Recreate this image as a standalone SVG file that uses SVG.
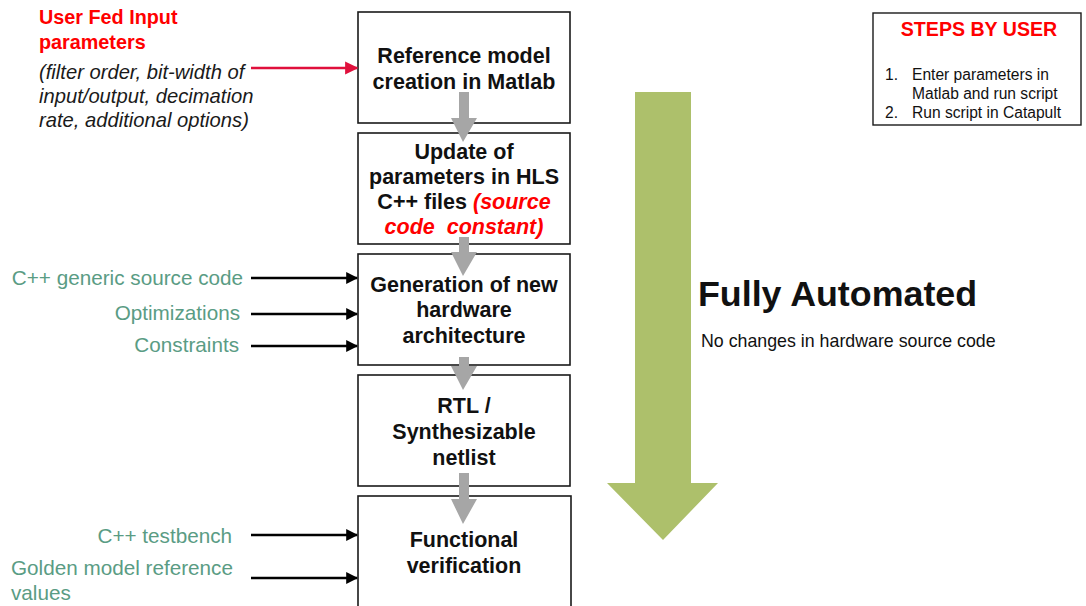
<svg xmlns="http://www.w3.org/2000/svg" width="1086" height="606" viewBox="0 0 1086 606">
  <defs>
    <style>
      .box { fill: #ffffff; stroke: #1a1a1a; stroke-width: 1.6; }
      .bt { font-family: "Liberation Sans", Arial, sans-serif; font-weight: bold; font-size: 21.5px; fill: #111; text-anchor: middle; }
      .red { fill: #ff0000; }
      .in { font-family: "Liberation Sans", Arial, sans-serif; font-size: 20.7px; fill: #5a9c84; }
      .flow { fill: #a6a6a6; }
      .wire { stroke: #000; stroke-width: 2.4; fill: none; marker-end: url(#ah); }
    </style>
    <marker id="ah" viewBox="0 0 10 10" refX="9" refY="5" markerWidth="5" markerHeight="5" markerUnits="strokeWidth" orient="auto">
      <path d="M0,0 L10,5 L0,10 z" fill="#000"/>
    </marker>
    <marker id="ahr" viewBox="0 0 10 10" refX="9" refY="5" markerWidth="5.5" markerHeight="5.5" markerUnits="strokeWidth" orient="auto">
      <path d="M0,0 L10,5 L0,10 z" fill="#e0103c"/>
    </marker>
  </defs>
  <rect width="1086" height="606" fill="#ffffff"/>

  <!-- user inputs -->
  <g id="user-input" font-family="Liberation Sans, Arial, sans-serif" font-size="20.2px">
    <text x="39" y="24" font-weight="bold" fill="#ff0000" font-size="19.8px">User Fed Input</text>
    <text x="39" y="49" font-weight="bold" fill="#ff0000" font-size="19.8px">parameters</text>
    <text x="39" y="79" font-style="italic" fill="#1a1a1a">(filter order, bit-width of</text>
    <text x="39" y="103" font-style="italic" fill="#1a1a1a">input/output, decimation</text>
    <text x="39" y="127" font-style="italic" fill="#1a1a1a">rate, additional options)</text>
  </g>

  <!-- process boxes -->
  <g id="ref-model">
    <rect class="box" x="358" y="12" width="212" height="111"/>
    <text class="bt" x="464" y="63">Reference model</text>
    <text class="bt" x="464" y="89">creation in Matlab</text>
  </g>
  <g id="update-params">
    <rect class="box" x="358" y="133" width="212" height="111"/>
    <text class="bt" x="464" y="159">Update of</text>
    <text class="bt" x="464" y="184">parameters in HLS</text>
    <text class="bt" x="464" y="209">C++ files <tspan class="red" font-style="italic">(source</tspan></text>
    <text class="bt red" x="464" y="234" font-style="italic" xml:space="preserve">code  constant)</text>
  </g>
  <g id="generation">
    <rect class="box" x="358" y="254" width="212" height="111"/>
    <text class="bt" x="464" y="292">Generation of new</text>
    <text class="bt" x="464" y="317">hardware</text>
    <text class="bt" x="464" y="343">architecture</text>
  </g>
  <g id="rtl">
    <rect class="box" x="358" y="375" width="212" height="111"/>
    <text class="bt" x="464" y="413">RTL /</text>
    <text class="bt" x="464" y="439">Synthesizable</text>
    <text class="bt" x="464" y="465">netlist</text>
  </g>
  <g id="verification">
    <rect class="box" x="358" y="496" width="213" height="120"/>
    <text class="bt" x="464" y="547">Functional</text>
    <text class="bt" x="464" y="573">verification</text>
  </g>

  <!-- side inputs -->
  <g id="side-inputs" class="in">
    <text x="243" y="285" text-anchor="end">C++ generic source code</text>
    <text x="240" y="320" text-anchor="end">Optimizations</text>
    <text x="239" y="352" text-anchor="end">Constraints</text>
    <text x="232" y="543" text-anchor="end">C++ testbench</text>
    <text x="11" y="575">Golden model reference</text>
    <text x="11" y="600">values</text>
  </g>

  <!-- connectors -->
  <g id="connectors">
    <line x1="251" y1="68" x2="357" y2="68" stroke="#e0103c" stroke-width="2.4" marker-end="url(#ahr)"/>
    <line class="wire" x1="251" y1="278" x2="357" y2="278"/>
    <line class="wire" x1="251" y1="314" x2="357" y2="314"/>
    <line class="wire" x1="251" y1="346" x2="357" y2="346"/>
    <line class="wire" x1="251" y1="535" x2="357" y2="535"/>
    <line class="wire" x1="251" y1="578" x2="357" y2="578"/>
    <path class="flow" d="M459,92 H469 V118 H477 L463,142 L451,118 H459 Z"/>
    <path class="flow" d="M459,237 H469 V252 H477 L463,276 L451,252 H459 Z"/>
    <path class="flow" d="M459,357 H469 V366 H477 L463,390 L451,366 H459 Z"/>
    <path class="flow" d="M459,473 H469 V499 H477 L463,524 L451,499 H459 Z"/>
  </g>

  <!-- automation arrow -->
  <g id="automation">
    <path d="M635,92 H691 V483 H718 L663,540 L607,483 H635 Z" fill="#adc06b"/>
    <text x="698" y="306" font-family="Liberation Sans, Arial, sans-serif" font-weight="bold" font-size="35.8px" fill="#111">Fully Automated</text>
    <text x="701" y="347" font-family="Liberation Sans, Arial, sans-serif" font-size="17.8px" fill="#111">No changes in hardware source code</text>
  </g>

  <!-- user steps -->
  <g id="steps" font-family="Liberation Sans, Arial, sans-serif" font-size="15.6px" fill="#111">
    <rect x="873" y="13" width="208" height="112" fill="#fff" stroke="#1a1a1a" stroke-width="1.4"/>
    <text x="979" y="36" text-anchor="middle" font-weight="bold" font-size="19.6px" fill="#ff0000">STEPS BY USER</text>
    <text x="885" y="80">1.</text>
    <text x="912" y="80">Enter parameters in</text>
    <text x="912" y="99">Matlab and run script</text>
    <text x="885" y="118">2.</text>
    <text x="912" y="118">Run script in Catapult</text>
  </g>
</svg>
